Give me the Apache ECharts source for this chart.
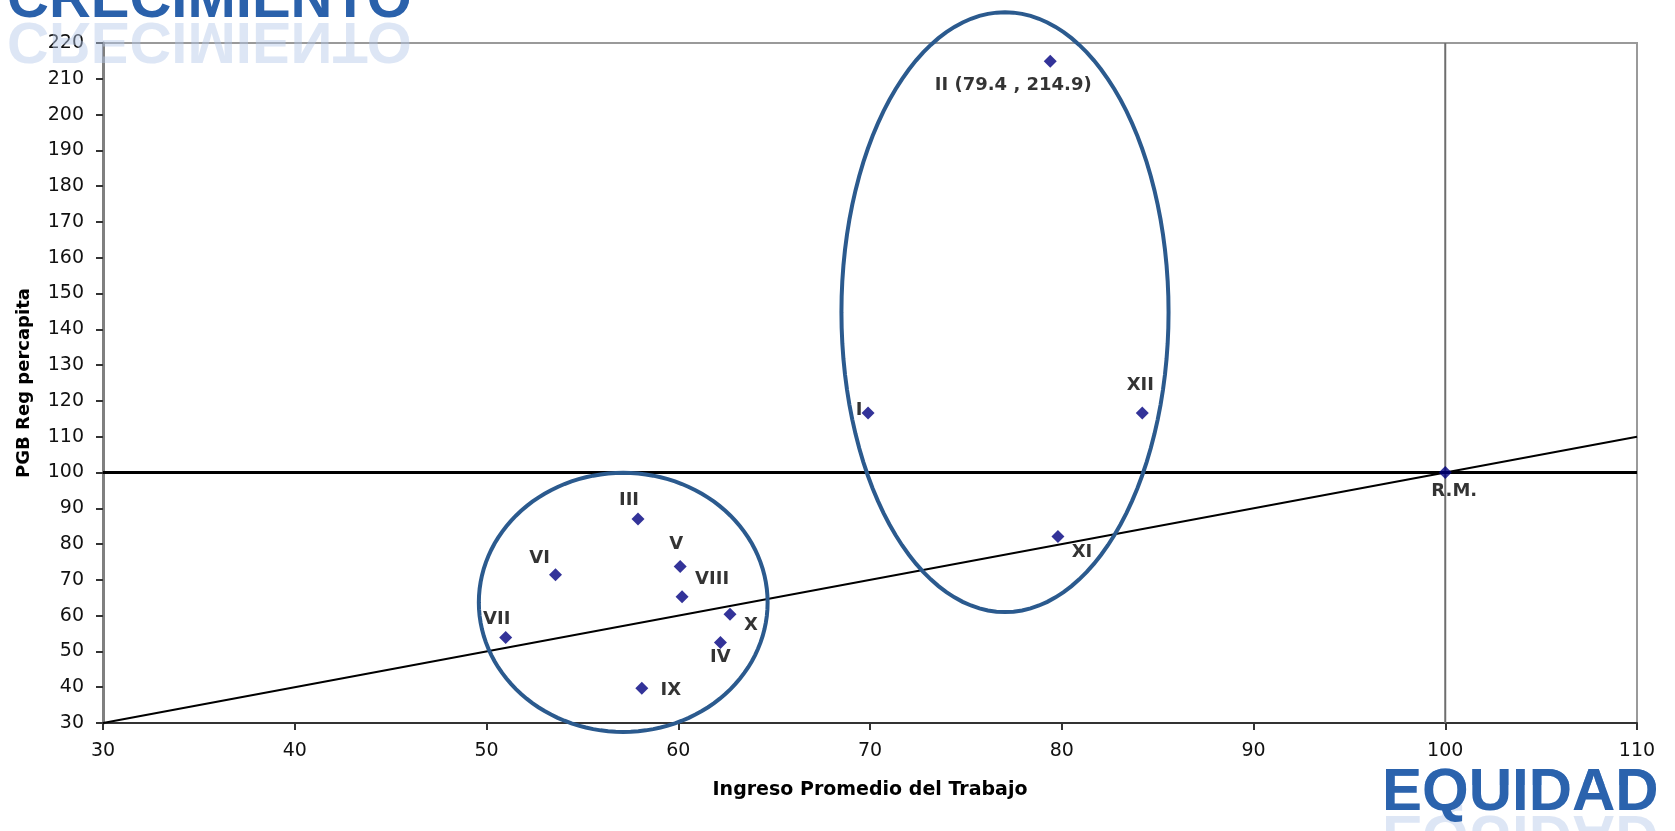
<!DOCTYPE html>
<html>
<head>
<meta charset="utf-8">
<script src="https://cdn.jsdelivr.net/npm/echarts@6/dist/echarts.min.js"></script>
<style>
  html, body { margin: 0; padding: 0; background: #fff; }
  #chart { width: 1675px; height: 831px; }
</style>
</head>
<body>
<div id="chart"></div>
<script>
// ---- Data ----
const regionNames = ['I', 'II', 'III', 'IV', 'V', 'VI', 'VII', 'VIII', 'IX', 'X', 'XI', 'XII', 'R.M.'];
const ingresoTrabajo = [69.9, 79.4, 57.9, 62.2, 60.1, 53.6, 51.0, 60.2, 58.1, 62.7, 79.8, 84.2, 100];
const pgbPercapita   = [116.6, 214.9, 87.0, 52.5, 73.7, 71.4, 53.9, 65.3, 39.7, 60.4, 82.1, 116.6, 100];
const pointLabels    = ['I', 'II (79.4 , 214.9)', 'III', 'IV', 'V', 'VI', 'VII', 'VIII', 'IX', 'X', 'XI', 'XII', 'R.M.'];

const equalityLineX = [30, 110];
const equalityLineY = [30, 110];
const referenceLevelY = 100;
const referenceLevelX = 100;

// ellipses highlighting groups (center x, center y, radius x, radius y in data units)
const ellipseCenterX = [57.13, 77.04];
const ellipseCenterY = [63.7, 144.8];
const ellipseRadiusX = [7.53, 8.53];
const ellipseRadiusY = [36.2, 83.8];

const xTicks = { min: 30, max: 110, interval: 10 };
const yTicks = { min: 30, max: 220, interval: 10 };

const xAxisTitle = 'Ingreso Promedio del Trabajo';
const yAxisTitle = 'PGB Reg percapita';
const topBanner = 'CRECIMIENTO';
const bottomBanner = 'EQUIDAD';

// ---- Styles (label placement) ----
const labelOffsets = {
  'I': [-9, -3], 'II': [-37, 24], 'III': [-9, -19], 'IV': [0, 15], 'V': [-4, -22],
  'VI': [-16, -17], 'VII': [-9, -18], 'VIII': [30, -17], 'IX': [29, 2], 'X': [21, 11],
  'XI': [24, 16], 'XII': [-2, -28], 'R.M.': [9, 19]
};

const chart = echarts.init(document.getElementById('chart'), null, { renderer: 'canvas' });

const scatterData = regionNames.map((n, i) => ({
  name: n,
  value: [ingresoTrabajo[i], pgbPercapita[i]],
  label: { formatter: pointLabels[i], offset: labelOffsets[n] }
}));

const ellipseData = ellipseCenterX.map((cx, i) => [cx, ellipseCenterY[i], ellipseRadiusX[i], ellipseRadiusY[i]]);

function banner(text, x, baseline, size, mainColor, topColor) {
  const font = 'bold ' + size + 'px "Liberation Sans", Arial, sans-serif';
  const base = { x: 0, y: -0.31 * size, font: font, align: 'left', verticalAlign: 'middle', text: text };
  const capH = 0.716 * size;
  return [
    // faded reflection
    { type: 'text', x: x, y: baseline + 2, scaleY: -1, silent: true, z: 1,
      style: Object.assign({}, base, { fill: '#b3c8e8', opacity: 0.45 }) },
    // main text (dark)
    { type: 'text', x: x, y: baseline, silent: true, z: 2,
      style: Object.assign({}, base, { fill: mainColor }) },
    // lighter upper part via clipped copy
    { type: 'group', x: 0, y: 0, silent: true, z: 3,
      clipPath: { type: 'rect', shape: { x: x - 4, y: baseline - capH - 2, width: size * 7.3, height: capH * 0.42 } },
      children: [
        { type: 'text', x: x, y: baseline, silent: true,
          style: Object.assign({}, base, { fill: topColor }) }
      ] }
  ];
}

const option = {
  animation: false,
  backgroundColor: '#ffffff',
  grid: {
    left: 103, right: 38, top: 43, bottom: 108,
    show: true, borderColor: '#9a9a9a', borderWidth: 2, backgroundColor: 'transparent'
  },
  xAxis: {
    type: 'value',
    min: xTicks.min, max: xTicks.max, interval: xTicks.interval,
    name: xAxisTitle,
    nameLocation: 'middle',
    nameGap: 58,
    nameTextStyle: { fontFamily: 'DejaVu Sans', fontWeight: 'bold', fontSize: 19, color: '#000' },
    axisLine: { show: true, onZero: false, lineStyle: { color: '#333', width: 2 } },
    axisTick: { show: true, length: 7, lineStyle: { color: '#333', width: 2 } },
    axisLabel: { margin: 19, fontFamily: 'DejaVu Sans', fontSize: 19, color: '#111' },
    splitLine: { show: false }
  },
  yAxis: {
    type: 'value',
    min: yTicks.min, max: yTicks.max, interval: yTicks.interval,
    name: yAxisTitle,
    nameLocation: 'middle',
    nameRotate: 90,
    nameGap: 70,
    nameTextStyle: { fontFamily: 'DejaVu Sans', fontWeight: 'bold', fontSize: 18, color: '#000' },
    axisLine: { show: true, onZero: false, lineStyle: { color: '#808080', width: 3 } },
    axisTick: { show: true, length: 7, lineStyle: { color: '#333', width: 2 } },
    axisLabel: { margin: 19, fontFamily: 'DejaVu Sans', fontSize: 19, color: '#111' },
    splitLine: { show: false }
  },
  graphic: [].concat(
    banner(topBanner, 7, 19, 58, '#2a61ab', '#5d8fd0'),
    banner(bottomBanner, 1382, 812, 60, '#2b63ad', '#6b9ad6')
  ),
  series: [
    {
      type: 'line', name: 'vertical 100',
      data: [[referenceLevelX, yTicks.min], [referenceLevelX, yTicks.max]],
      symbol: 'none', silent: true, z: 1,
      lineStyle: { color: '#6e6e6e', width: 2 }
    },
    {
      type: 'line', name: 'horizontal 100',
      data: [[xTicks.min, referenceLevelY], [xTicks.max, referenceLevelY]],
      symbol: 'none', silent: true, z: 2,
      lineStyle: { color: '#000', width: 3 }
    },
    {
      type: 'line', name: 'equality',
      data: equalityLineX.map((x, i) => [x, equalityLineY[i]]),
      symbol: 'none', silent: true, z: 2,
      lineStyle: { color: '#000', width: 2 }
    },
    {
      type: 'custom', name: 'groups',
      data: ellipseData,
      encode: { x: 0, y: 1 },
      clip: false, silent: true, z: 3,
      renderItem: function (params, api) {
        const cx = api.value(0), cy = api.value(1), rx = api.value(2), ry = api.value(3);
        const pts = [];
        const n = 120;
        for (let k = 0; k < n; k++) {
          const a = (k / n) * Math.PI * 2;
          pts.push(api.coord([cx + rx * Math.cos(a), cy + ry * Math.sin(a)]));
        }
        return {
          type: 'polygon',
          shape: { points: pts },
          style: { fill: 'none', stroke: '#2b5a8e', lineWidth: 4 }
        };
      }
    },
    {
      type: 'scatter', name: 'Regiones',
      data: scatterData,
      symbol: 'diamond', symbolSize: 13, z: 5,
      itemStyle: { color: '#000080' },
      label: {
        show: true, position: 'inside',
        fontFamily: 'DejaVu Sans', fontWeight: 'bold', fontSize: 18, color: '#000',
        align: 'center', verticalAlign: 'middle'
      }
    }
  ]
};

chart.setOption(option);
</script>
</body>
</html>
